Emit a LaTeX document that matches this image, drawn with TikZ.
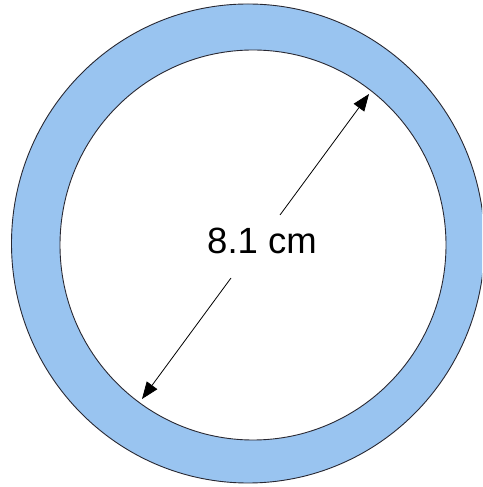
\documentclass[tikz,border=0pt]{standalone}
\usepackage{fontspec}
\setmainfont{Liberation Sans}
\usetikzlibrary{arrows.meta}
\definecolor{ringblue}{RGB}{153,196,240}
\definecolor{edge}{RGB}{40,40,50}
\tikzset{
  ringline/.style={draw=edge, line width=0.9pt},
  dimline/.style={draw=black, line width=0.8pt, -{Triangle[length=17pt,width=13pt]}},
  dimlabel/.style={font=\fontsize{36.5}{42}\selectfont, inner sep=0pt}
}
\begin{document}
\begin{tikzpicture}[x=1pt,y=1pt]
  \useasboundingbox (0,0) rectangle (482,487);
  \begin{scope}
    \clip (0,0) rectangle (482,487);
    % outer ring
    \path[ringline, fill=ringblue] (248,243.5) ellipse [x radius=236.5, y radius=239.5];
    \path[ringline, fill=white] (253,242) ellipse [x radius=193, y radius=195];
  \end{scope}
  % label and dimension arrow
  \node[dimlabel] (lab) at (262,246) {8.1 cm};
  \coordinate (gapTop) at (280,272);
  \coordinate (gapBot) at (231,209);
  \coordinate (tipTop) at (369,393);
  \coordinate (tipBot) at (142,88);
  \draw[dimline] (gapTop) -- (tipTop);
  \draw[dimline] (gapBot) -- (tipBot);
\end{tikzpicture}
\end{document}
